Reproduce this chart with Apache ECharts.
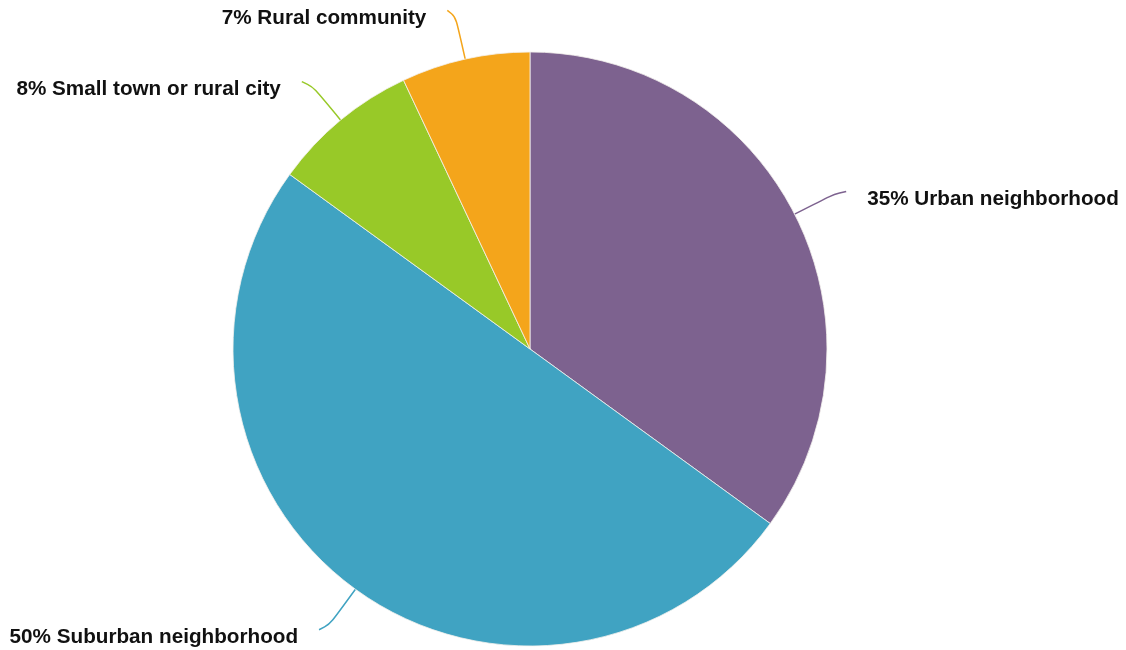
<!DOCTYPE html>
<html>
<head>
<meta charset="utf-8">
<script src="https://cdn.jsdelivr.net/npm/echarts@6/dist/echarts.min.js"></script>
<style>
  html, body { margin: 0; padding: 0; background: #ffffff; }
  #chart { width: 1126px; height: 650px; }
</style>
</head>
<body>
<div id="chart"></div>
<script>
// Community type shares (percent), clockwise from 12 o'clock
const categories = ['Urban neighborhood', 'Suburban neighborhood', 'Small town or rural city', 'Rural community'];
const shares = [35, 50, 8, 7];
const colors = ['#7d628f', '#40a3c2', '#98c928', '#f4a51b'];

const chart = echarts.init(document.getElementById('chart'));

const data = categories.map((name, i) => ({
  name: name,
  value: shares[i],
  itemStyle: { color: colors[i] },
  labelLine: { lineStyle: { color: colors[i] } }
}));

chart.setOption({
  animation: false,
  series: [{
    type: 'pie',
    center: [530, 349],
    radius: [0, 297],
    startAngle: 90,
    clockwise: true,
    avoidLabelOverlap: false,
    itemStyle: { borderColor: '#f4f1ee', borderWidth: 0.8 },
    label: {
      show: true,
      position: 'outside',
      // label text sits a little below the end of its leader line
      formatter: p => '{t|' + p.value + '% ' + p.name + '}',
      rich: {
        t: {
          fontFamily: 'Liberation Sans, Arial, Helvetica, sans-serif',
          fontWeight: 'bold',
          fontSize: 20.7,
          color: '#111111',
          padding: [15, 0, 0, 0]
        }
      },
      distanceToLabelLine: 21
    },
    labelLine: {
      show: true,
      length: 50,
      length2: 7,
      smooth: 1,
      lineStyle: { width: 1.5 }
    },
    data: data
  }]
});
</script>
</body>
</html>
